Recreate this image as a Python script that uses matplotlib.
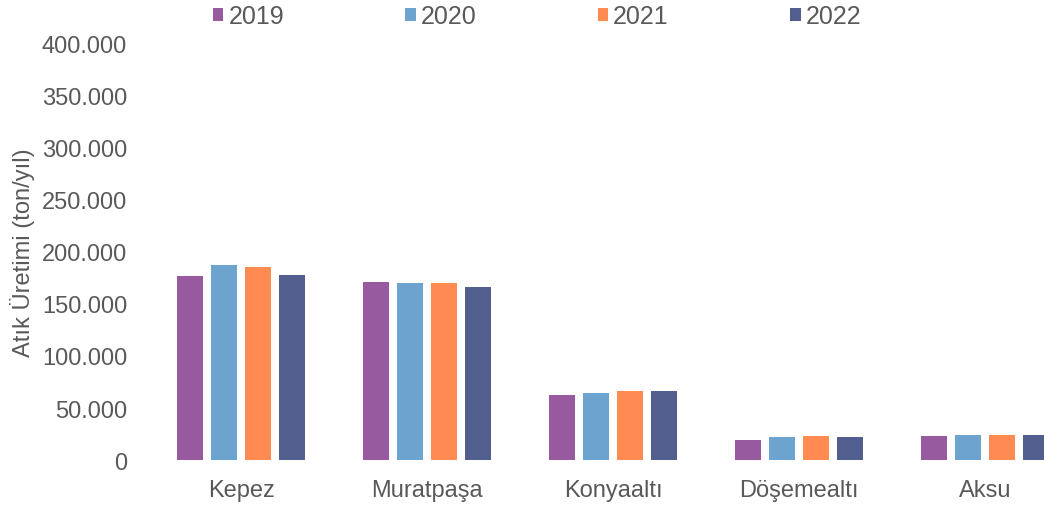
# Atık üretimi - ilçelere göre yıllık bar grafiği

import numpy as np
import matplotlib as mpl
mpl.use('Agg')
import matplotlib.pyplot as plt
import matplotlib.ticker as ticker

plt.rcParams['font.family'] = ['Liberation Sans', 'DejaVu Sans']

districts = ["Kepez", "Muratpaşa", "Konyaaltı", "Döşemealtı", "Aksu"]
years = ["2019", "2020", "2021", "2022"]
y2019 = [177000, 171500, 62500, 19500, 23400]
y2020 = [187000, 170500, 64000, 21800, 23700]
y2021 = [185600, 170000, 66000, 22700, 24300]
y2022 = [178000, 166000, 66000, 22400, 24000]
series = [y2019, y2020, y2021, y2022]
colors = ["#985A9E", "#6DA4CF", "#FF8B52", "#525E8D"]
yticks = np.arange(0, 400001, 50000)

txt = "#595959"

fig = plt.figure(figsize=(10.44, 5.10), dpi=100)
ax = fig.add_axes([0.1418, 0.096, 0.8908, 0.816])

x = np.arange(len(districts))
w = 0.14
step = 0.183
for i, (vals, c, lab) in enumerate(zip(series, colors, years)):
    ax.bar(x + (i - 1.5) * step, vals, width=w, color=c, label=lab)

ax.set_xlim(-0.5, len(districts) - 0.5)
ax.set_ylim(0, 400000)
ax.set_yticks(yticks)
ax.yaxis.set_major_formatter(ticker.FuncFormatter(
    lambda v, p: "0" if v == 0 else "{:,.0f}".format(v).replace(",", ".")))
ax.set_xticks(x)
ax.set_xticklabels(districts)
ax.tick_params(axis='y', length=0, pad=15, labelsize=17, labelcolor=txt)
ax.tick_params(axis='x', length=0, pad=14, labelsize=17, labelcolor=txt)
for s in ax.spines.values():
    s.set_visible(False)

ax.set_ylabel("Atık Üretimi (ton/yıl)", fontsize=17, color=txt)
ax.yaxis.set_label_coords(-0.122, 0.5)

fig.legend(loc='center', bbox_to_anchor=(537 / 1044, 1 - 17 / 510), ncol=4,
           frameon=False, fontsize=18, handlelength=0.42, handleheight=0.42,
           handletextpad=0.2, columnspacing=4.85, labelcolor=txt)

fig.savefig('out.png', dpi=100, transparent=False)
